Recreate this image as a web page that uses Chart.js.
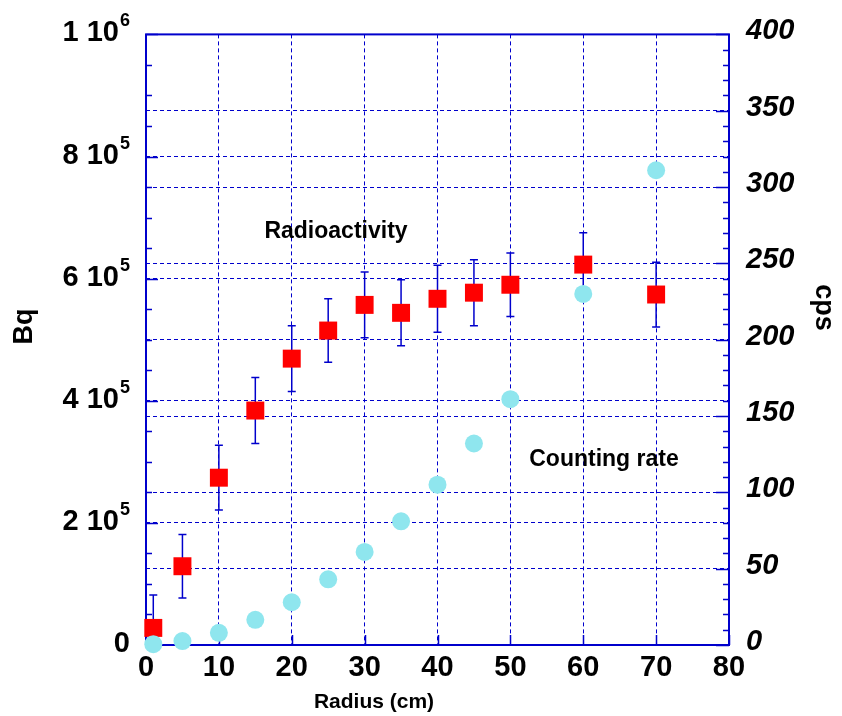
<!DOCTYPE html>
<html>
<head>
<meta charset="utf-8">
<title>Radioactivity and counting rate vs radius</title>
<script src="https://cdn.jsdelivr.net/npm/chart.js@4.4.0/dist/chart.umd.min.js"></script>
<style>
  html, body { margin: 0; padding: 0; background: #fff; }
  #wrap { width: 842px; height: 716px; }
</style>
</head>
<body>
<div id="wrap"><canvas id="myChart" width="842" height="716"></canvas></div>
<script>
// Radioactivity (left axis, Bq), with symmetric error bars
var radius = [1, 5, 10, 15, 20, 25, 30, 35, 40, 45, 50, 60, 70];
var activity = [28000, 129000, 274000, 384000, 469000, 515000, 557000, 544000, 567000, 577000, 590000, 623000, 574000];
var activityErr = [54000, 52000, 53000, 54000, 54000, 52000, 54000, 54000, 55000, 54000, 52000, 52000, 53000];

// Counting rate (right axis, cps)
var rateRadius = [1, 5, 10, 15, 20, 25, 30, 35, 40, 45, 50, 60, 70];
var countRate = [0.5, 2.6, 8, 16.5, 28, 43, 61, 81, 105, 132, 161, 230, 311];

// tick labels
var xTickLabels = ['0', '10', '20', '30', '40', '50', '60', '70', '80'];
var leftTickValues = [0, 200000, 400000, 600000, 800000, 1000000];
var leftTickText = ['0', '2 10', '4 10', '6 10', '8 10', '1 10'];
var leftTickExp = ['', '5', '5', '5', '5', '6'];
var rightTickLabels = ['0', '50', '100', '150', '200', '250', '300', '350', '400'];

var BLUE = '#0000cc';
var FONT = 'Arial, "Liberation Sans", Helvetica, sans-serif';
var CLEAR = 'rgba(0,0,0,0)';

var decor = {
    id: 'decor',
    beforeDatasetsDraw: function (chart) {
        var ctx = chart.ctx, a = chart.chartArea;
        var xs = chart.scales.x, ys = chart.scales.y, y2 = chart.scales.y2;
        ctx.save();
        ctx.strokeStyle = BLUE;
        ctx.setLineDash([]);

        // frame
        ctx.lineWidth = 2;
        ctx.strokeRect(a.left, a.top, a.right - a.left, a.bottom - a.top);

        // inward tick marks
        ctx.lineWidth = 1.5;
        ctx.beginPath();
        ys.ticks.forEach(function (t) {
            var p = Math.round(ys.getPixelForValue(t.value)) + 0.5;
            var len = (t.value % 200000 === 0) ? 12 : 6;
            ctx.moveTo(a.left, p); ctx.lineTo(a.left + len, p);
        });
        y2.ticks.forEach(function (t) {
            var p = Math.round(y2.getPixelForValue(t.value)) + 0.5;
            var len = (t.value % 50 === 0) ? 13 : 6;
            ctx.moveTo(a.right - len, p); ctx.lineTo(a.right, p);
        });
        xs.ticks.forEach(function (t) {
            var p = Math.round(xs.getPixelForValue(t.value)) + 0.5;
            ctx.moveTo(p, a.bottom); ctx.lineTo(p, a.bottom - 10);
        });
        ctx.stroke();

        // error bars for the radioactivity points
        ctx.beginPath();
        ctx.rect(a.left, a.top, a.right - a.left, a.bottom - a.top);
        ctx.clip();
        ctx.lineWidth = 1.5;
        ctx.beginPath();
        for (var i = 0; i < radius.length; i++) {
            var px = xs.getPixelForValue(radius[i]);
            var hi = ys.getPixelForValue(activity[i] + activityErr[i]);
            var lo = ys.getPixelForValue(activity[i] - activityErr[i]);
            ctx.moveTo(px, hi); ctx.lineTo(px, lo);
            ctx.moveTo(px - 4, hi); ctx.lineTo(px + 4, hi);
            ctx.moveTo(px - 4, lo); ctx.lineTo(px + 4, lo);
        }
        ctx.stroke();
        ctx.restore();
    },
    afterDraw: function (chart) {
        var ctx = chart.ctx, a = chart.chartArea;
        var ys = chart.scales.y;
        ctx.save();
        ctx.fillStyle = '#000';

        // left tick labels with superscript exponents
        var rightEdge = a.left - 16;
        for (var i = 0; i < leftTickValues.length; i++) {
            var p = ys.getPixelForValue(leftTickValues[i]);
            ctx.font = 'bold 18px ' + FONT;
            var ew = leftTickExp[i] ? ctx.measureText(leftTickExp[i]).width : 0;
            ctx.textAlign = 'left';
            ctx.textBaseline = 'alphabetic';
            if (leftTickExp[i]) ctx.fillText(leftTickExp[i], rightEdge - ew, p - 8);
            ctx.font = 'bold 29px ' + FONT;
            ctx.textAlign = 'right';
            ctx.fillText(leftTickText[i], rightEdge - ew - (ew ? 1 : 0), p + 7);
        }

        ctx.textAlign = 'center';
        ctx.textBaseline = 'middle';

        // axis titles
        ctx.font = 'bold 27px ' + FONT;
        ctx.save();
        ctx.translate(25, a.top + 292);
        ctx.rotate(-Math.PI / 2);
        ctx.fillText('Bq', 0, 0);
        ctx.restore();

        ctx.save();
        ctx.translate(823, a.top + 273);
        ctx.rotate(Math.PI / 2);
        ctx.fillText('cps', 0, 0);
        ctx.restore();

        ctx.font = 'bold 21px ' + FONT;
        ctx.fillText('Radius (cm)', a.left + 228, a.bottom + 57);

        // series labels
        ctx.font = 'bold 23px ' + FONT;
        ctx.fillText('Radioactivity', a.left + 190, a.top + 197);
        ctx.fillText('Counting rate', a.left + 458, a.top + 425);
        ctx.restore();
    }
};

var ctx = document.getElementById('myChart').getContext('2d');
var chart = new Chart(ctx, {
    type: 'scatter',
    data: {
        datasets: [
            {
                label: 'Counting rate',
                yAxisID: 'y2',
                data: rateRadius.map(function (r, i) { return { x: r, y: countRate[i] }; }),
                pointStyle: 'circle',
                pointRadius: 9,
                pointHoverRadius: 9,
                backgroundColor: '#8fe6ee',
                borderWidth: 0,
                clip: false,
                order: 0
            },
            {
                label: 'Radioactivity',
                yAxisID: 'y',
                data: radius.map(function (r, i) { return { x: r, y: activity[i] }; }),
                pointStyle: 'rect',
                pointRadius: 12.7,
                pointHoverRadius: 12.7,
                backgroundColor: '#ff0000',
                borderWidth: 0,
                clip: false,
                order: 1
            }
        ]
    },
    options: {
        responsive: false,
        animation: false,
        devicePixelRatio: 1,
        layout: { padding: { top: 33, left: 0, right: 0, bottom: 0 } },
        plugins: {
            legend: { display: false },
            tooltip: { enabled: false }
        },
        scales: {
            x: {
                type: 'linear',
                position: 'bottom',
                min: 0,
                max: 80,
                afterFit: function (s) { s.height = 71; },
                ticks: {
                    stepSize: 10,
                    autoSkip: false,
                    maxRotation: 0,
                    padding: 6,
                    color: '#000',
                    font: { family: FONT, size: 29, weight: 'bold' },
                    callback: function (v) { return xTickLabels[Math.round(v / 10)]; }
                },
                grid: { color: BLUE, lineWidth: 1, drawTicks: false },
                border: { display: false, dash: [4, 3] }
            },
            y: {
                type: 'linear',
                position: 'left',
                min: 0,
                max: 1000000,
                afterFit: function (s) { s.width = 146; },
                ticks: { display: false, stepSize: 50000, autoSkip: false },
                grid: {
                    drawTicks: false,
                    lineWidth: 1,
                    color: function (c) { return (c.tick && c.tick.value % 200000 === 0) ? BLUE : CLEAR; }
                },
                border: { display: false, dash: [4, 3] }
            },
            y2: {
                type: 'linear',
                position: 'right',
                min: 0,
                max: 400,
                afterFit: function (s) { s.width = 113; },
                ticks: {
                    stepSize: 10,
                    autoSkip: false,
                    padding: 17,
                    labelOffset: -3,
                    color: '#000',
                    font: { family: FONT, size: 29, weight: 'bold', style: 'italic' },
                    callback: function (v) { return v % 50 === 0 ? rightTickLabels[v / 50] : ''; }
                },
                grid: {
                    drawTicks: false,
                    lineWidth: 1,
                    color: function (c) { return (c.tick && c.tick.value % 50 === 0) ? BLUE : CLEAR; }
                },
                border: { display: false, dash: [4, 3] }
            }
        }
    },
    plugins: [decor]
});
</script>
</body>
</html>
